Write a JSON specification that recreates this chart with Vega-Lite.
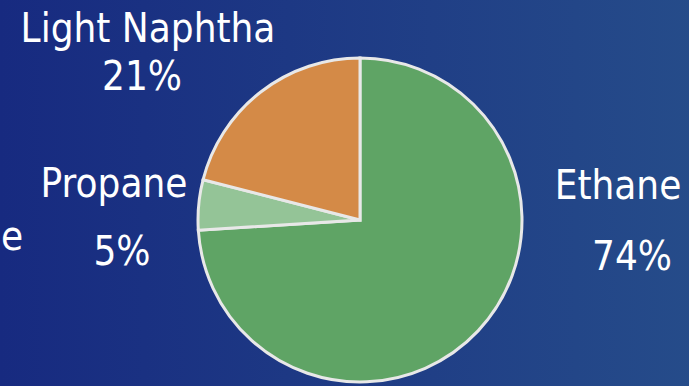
{
  "$schema": "https://vega.github.io/schema/vega-lite/v6.json",
  "width": 720,
  "height": 440,
  "padding": 0,
  "autosize": {"type": "none"},
  "background": "#1e3884",
  "config": {
    "view": {"stroke": null},
    "text": {"font": "DejaVu Sans Condensed", "fontSize": 40, "color": "#ffffff", "baseline": "alphabetic"}
  },
  "data": {
    "values": [
      {"category": "Ethane", "share": 74, "rank": 1},
      {"category": "Propane", "share": 5, "rank": 2},
      {"category": "Light Naphtha", "share": 21, "rank": 3}
    ]
  },
  "layer": [
    {
      "data": {"values": [{"bg": 1}]},
      "mark": {"type": "rect", "color": {"gradient": "linear", "x1": 0, "y1": 0, "x2": 1, "y2": 0,
        "stops": [{"offset": 0, "color": "#172a80"}, {"offset": 1, "color": "#264d8a"}]}},
      "encoding": {}
    },
    {
      "mark": {"type": "arc", "radius": 162, "stroke": "#e8e8e8", "strokeWidth": 3},
      "encoding": {
        "theta": {"field": "share", "type": "quantitative", "stack": true},
        "order": {"field": "rank", "type": "ordinal"},
        "color": {"field": "category", "type": "nominal", "legend": null,
          "scale": {"domain": ["Ethane", "Propane", "Light Naphtha"], "range": ["#5fa465", "#94c497", "#d48a47"]}}
      }
    },
    {
      "transform": [{"filter": "datum.category == 'Light Naphtha'"}],
      "mark": {"type": "text", "dx": -212, "dy": -178},
      "encoding": {"text": {"field": "category"}}
    },
    {
      "transform": [{"filter": "datum.category == 'Light Naphtha'"}, {"calculate": "datum.share + '%'", "as": "pct"}],
      "mark": {"type": "text", "dx": -218, "dy": -130},
      "encoding": {"text": {"field": "pct"}}
    },
    {
      "transform": [{"filter": "datum.category == 'Propane'"}],
      "mark": {"type": "text", "dx": -246, "dy": -23},
      "encoding": {"text": {"field": "category"}}
    },
    {
      "transform": [{"filter": "datum.category == 'Propane'"}, {"calculate": "datum.share + '%'", "as": "pct"}],
      "mark": {"type": "text", "dx": -238, "dy": 45},
      "encoding": {"text": {"field": "pct"}}
    },
    {
      "transform": [{"filter": "datum.category == 'Ethane'"}],
      "mark": {"type": "text", "dx": 258, "dy": -21},
      "encoding": {"text": {"field": "category"}}
    },
    {
      "transform": [{"filter": "datum.category == 'Ethane'"}, {"calculate": "datum.share + '%'", "as": "pct"}],
      "mark": {"type": "text", "dx": 272, "dy": 50},
      "encoding": {"text": {"field": "pct"}}
    },
    {
      "data": {"values": [{"label": "e"}]},
      "mark": {"type": "text", "align": "left", "dx": -359, "dy": 30},
      "encoding": {"text": {"field": "label"}}
    }
  ]
}
